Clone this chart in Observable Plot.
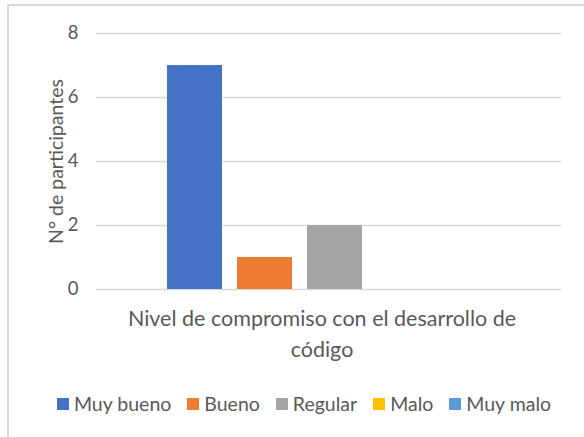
<!DOCTYPE html>
<html>
<head>
<meta charset="utf-8">
<script src="https://cdn.jsdelivr.net/npm/d3@7"></script>
<script src="https://cdn.jsdelivr.net/npm/@observablehq/plot@0.6"></script>
<style>
  html, body { margin: 0; padding: 0; background: #fff; }
  #wrap { position: relative; width: 584px; height: 437px; overflow: hidden; font-family: Lato, "Open Sans", sans-serif; color: #595959; }
  #border { position: absolute; left: 7px; top: 4px; width: 620px; height: 520px; border-left: 2px solid #d9d9d9; border-top: 2px solid #d9d9d9; box-sizing: border-box; }
  #chart { position: absolute; left: 0; top: 0; }
  #xtitle { position: absolute; left: 102px; width: 440px; top: 303px; text-align: center; font-size: 21.5px; line-height: 31px; }
  #legend { position: absolute; left: 7px; width: 594px; top: 392px; display: flex; justify-content: center; gap: 16px; font-size: 19.5px; }
  .item { display: flex; align-items: center; gap: 5px; }
  .sw { width: 12px; height: 12px; display: inline-block; }
</style>
</head>
<body>
<div id="wrap">
  <div id="border"></div>
  <div id="chart"></div>
  <div id="xtitle"></div>
  <div id="legend"></div>
</div>
<script>
const series = ["Muy bueno", "Bueno", "Regular", "Malo", "Muy malo"];
const values = [7, 1, 2, 0, 0];
const colors = ["#4472c4", "#ed7d31", "#a5a5a5", "#ffc000", "#5b9bd5"];
const yTicks = [0, 2, 4, 6, 8];
const yLabel = "N° de participantes";
const xTitle = ["Nivel de compromiso con el desarrollo de", "código"];

const data = series.map((s, i) => ({serie: s, valor: values[i]}));

const plot = Plot.plot({
  width: 584,
  height: 300,
  marginLeft: 96,
  marginRight: 23,
  marginTop: 33,
  marginBottom: 11,
  style: {fontFamily: "Lato, 'Open Sans', sans-serif", fontSize: "18px", color: "#595959", background: "transparent"},
  x: {domain: series, range: [167, 502], paddingInner: 15/70, paddingOuter: 0, axis: null},
  y: {domain: [0, 8], ticks: yTicks, label: null},
  color: {domain: series, range: colors},
  marks: [
    Plot.ruleY(yTicks, {stroke: "#d9d9d9", strokeWidth: 1.5}),
    Plot.axisY({ticks: yTicks, tickSize: 0, tickPadding: 18, label: null, fontSize: 18.5}),
    Plot.barY(data, {x: "serie", y: "valor", fill: "serie"}),
    Plot.text([yLabel], {frameAnchor: "left", textAnchor: "middle", dx: -40, rotate: -90, fontSize: 19.5, fill: "#595959"})
  ]
});
document.getElementById("chart").appendChild(plot);

document.getElementById("xtitle").innerHTML = xTitle.join("<br>");

const legend = document.getElementById("legend");
series.forEach((s, i) => {
  const it = document.createElement("div");
  it.className = "item";
  const sw = document.createElement("span");
  sw.className = "sw";
  sw.style.background = colors[i];
  const t = document.createElement("span");
  t.textContent = s;
  it.appendChild(sw);
  it.appendChild(t);
  legend.appendChild(it);
});
</script>
</body>
</html>
